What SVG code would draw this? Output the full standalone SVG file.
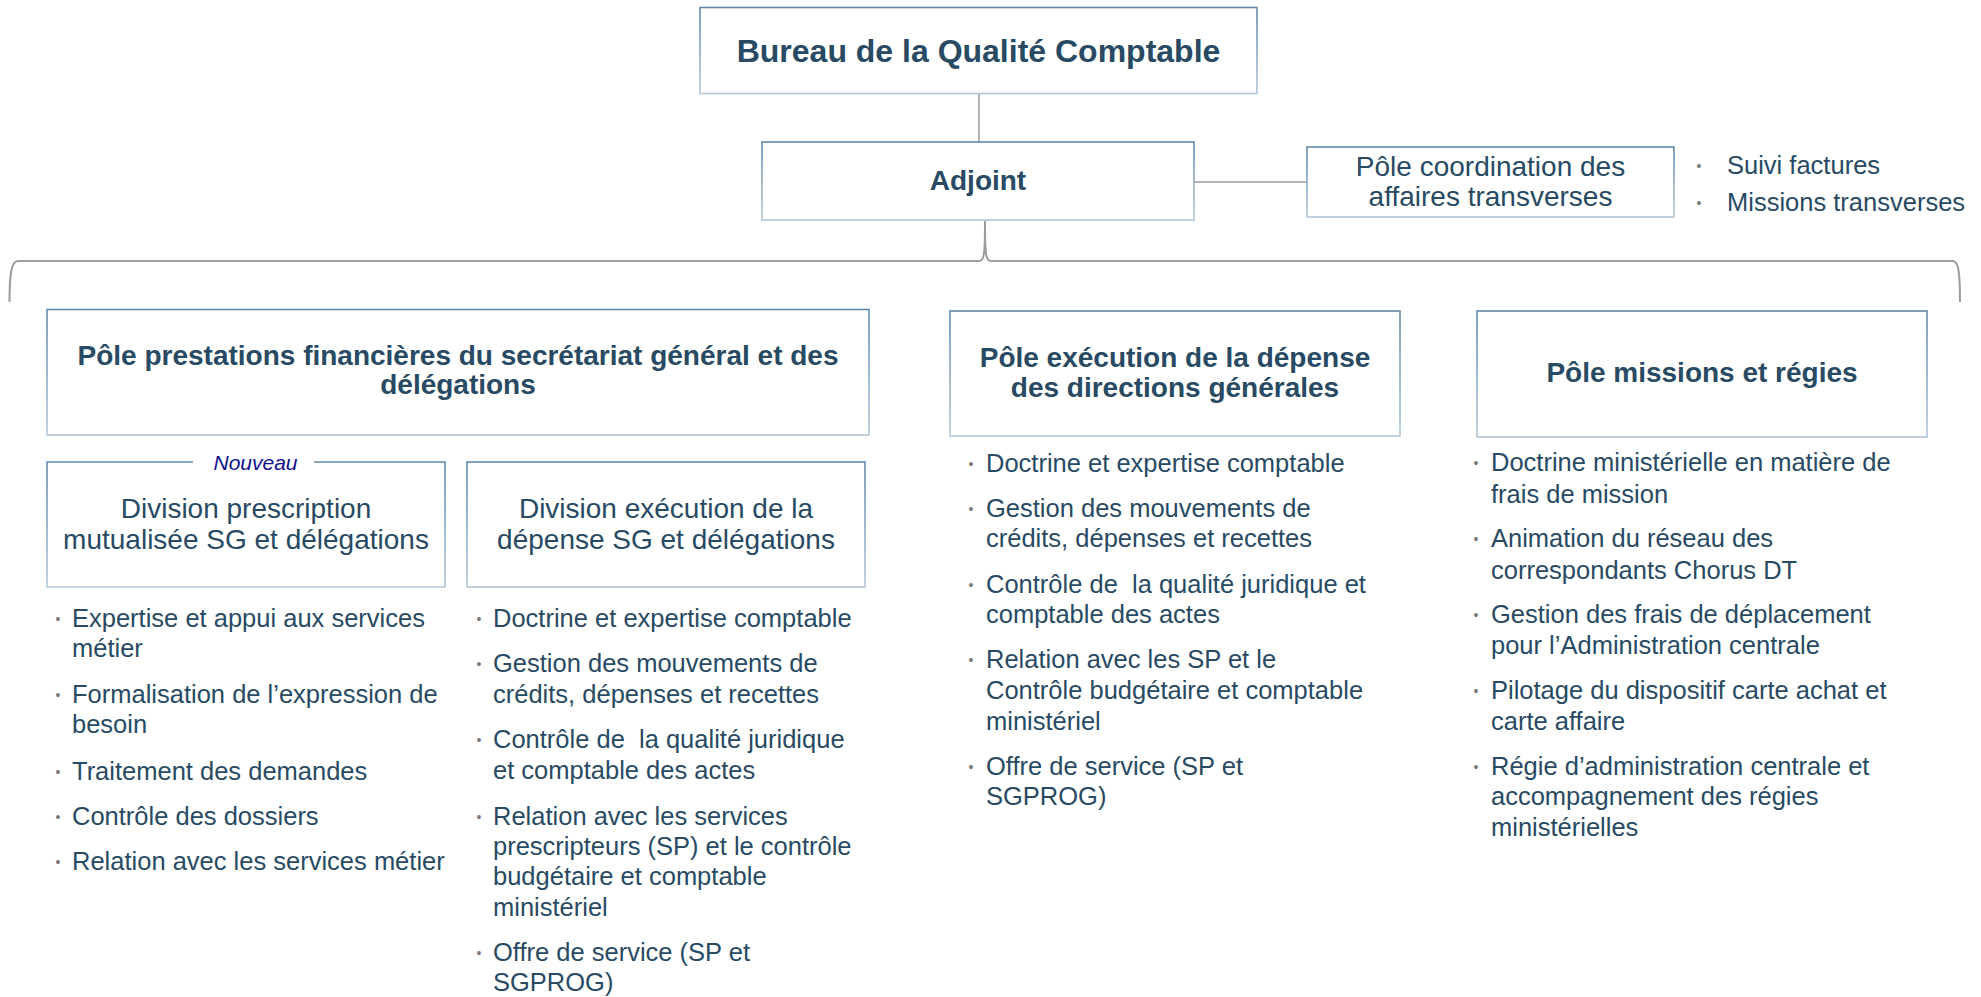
<svg xmlns="http://www.w3.org/2000/svg" width="1981" height="997" viewBox="0 0 1981 997">
  <defs>
    <linearGradient id="bd" x1="0" y1="0" x2="0" y2="1">
      <stop offset="0" stop-color="#6189aa"/>
      <stop offset="1" stop-color="#b3c7d8"/>
    </linearGradient>
    <style>
      .box { fill: #ffffff; stroke: url(#bd); stroke-width: 1.6; }
      .t { font-family: "Liberation Sans", Arial, sans-serif; fill: #284a63; }
      .tb { font-family: "Liberation Sans", Arial, sans-serif; fill: #284a63; font-weight: bold; font-size: 28px; text-anchor: middle; }
      .tr { font-family: "Liberation Sans", Arial, sans-serif; fill: #284a63; font-size: 28px; text-anchor: middle; }
      .li { font-family: "Liberation Sans", Arial, sans-serif; fill: #284a63; font-size: 25.5px; }
      .bu { font-family: "Liberation Sans", Arial, sans-serif; fill: #7a7a7a; font-size: 14px; text-anchor: middle; }
      .nv { font-family: "Liberation Sans", Arial, sans-serif; fill: #10108c; font-size: 21px; font-style: italic; text-anchor: middle; }
      .cn { fill: none; stroke: #b5b5b5; stroke-width: 2; }
      .br { fill: none; stroke: #9c9c9c; stroke-width: 2; }
    </style>
  </defs>
  <rect width="1981" height="997" fill="#ffffff"/>

  <g id="connectors">
    <line class="cn" x1="979" y1="94" x2="979" y2="142"/>
    <line class="cn" x1="1194" y1="182" x2="1307" y2="182"/>
    <path class="br" d="M9.5,302 C9.5,276 11,261 18,261 L979,261 C984,261 985,256 985,221 C985,256 986,261 991,261 L1953,261 C1959,261 1960,276 1960,302"/>
  </g>

  <g id="bureau">
    <rect class="box" x="700" y="7.5" width="557" height="86"/>
    <text class="tb" x="978.5" y="62" style="font-size:32px">Bureau de la Qualité Comptable</text>
  </g>

  <g id="adjoint">
    <rect class="box" x="762" y="142" width="432" height="78"/>
    <text class="tb" x="978" y="190">Adjoint</text>
  </g>

  <g id="pole-coordination">
    <rect class="box" x="1307" y="147" width="367" height="70"/>
    <text class="tr" x="1490.5" y="176">Pôle coordination des</text>
    <text class="tr" x="1490.5" y="206">affaires transverses</text>
  </g>

  <g id="coordination-items">
    <text class="bu" x="1699" y="171">•</text>
    <text class="li" x="1727" y="174">Suivi factures</text>
    <text class="bu" x="1699" y="208">•</text>
    <text class="li" x="1727" y="211">Missions transverses</text>
  </g>

  <g id="pole-prestations">
    <rect class="box" x="47" y="309.5" width="822" height="125.5"/>
    <text class="tb" x="458" y="365">Pôle prestations financières du secrétariat général et des</text>
    <text class="tb" x="458" y="394">délégations</text>
  </g>

  <g id="division-prescription">
    <path class="box" d="M193,462 H47 V587 H445 V462 H314"/>
    <text class="nv" x="255.5" y="470">Nouveau</text>
    <text class="tr" x="246" y="518">Division prescription</text>
    <text class="tr" x="246" y="549">mutualisée SG et délégations</text>
  </g>

  <g id="division-execution">
    <rect class="box" x="467" y="462" width="398" height="125"/>
    <text class="tr" x="666" y="518">Division exécution de la</text>
    <text class="tr" x="666" y="549">dépense SG et délégations</text>
  </g>

  <g id="prescription-items">
    <text class="bu" x="58" y="624">•</text>
    <text class="li" x="72" y="627">Expertise et appui aux services</text>
    <text class="li" x="72" y="657">métier</text>
    <text class="bu" x="58" y="700">•</text>
    <text class="li" x="72" y="703">Formalisation de l’expression de</text>
    <text class="li" x="72" y="733">besoin</text>
    <text class="bu" x="58" y="777">•</text>
    <text class="li" x="72" y="780">Traitement des demandes</text>
    <text class="bu" x="58" y="822">•</text>
    <text class="li" x="72" y="825">Contrôle des dossiers</text>
    <text class="bu" x="58" y="867">•</text>
    <text class="li" x="72" y="870">Relation avec les services métier</text>
  </g>

  <g id="execution-sg-items">
    <text class="bu" x="479" y="624">•</text>
    <text class="li" x="493" y="627">Doctrine et expertise comptable</text>
    <text class="bu" x="479" y="669">•</text>
    <text class="li" x="493" y="672">Gestion des mouvements de</text>
    <text class="li" x="493" y="703">crédits, dépenses et recettes</text>
    <text class="bu" x="479" y="745">•</text>
    <text class="li" x="493" y="748" xml:space="preserve">Contrôle de  la qualité juridique</text>
    <text class="li" x="493" y="779">et comptable des actes</text>
    <text class="bu" x="479" y="822">•</text>
    <text class="li" x="493" y="825">Relation avec les services</text>
    <text class="li" x="493" y="855">prescripteurs (SP) et le contrôle</text>
    <text class="li" x="493" y="885">budgétaire et comptable</text>
    <text class="li" x="493" y="916">ministériel</text>
    <text class="bu" x="479" y="958">•</text>
    <text class="li" x="493" y="961">Offre de service (SP et</text>
    <text class="li" x="493" y="991">SGPROG)</text>
  </g>

  <g id="pole-execution">
    <rect class="box" x="950" y="311" width="450" height="125"/>
    <text class="tb" x="1175" y="367">Pôle exécution de la dépense</text>
    <text class="tb" x="1175" y="397">des directions générales</text>
  </g>

  <g id="execution-dg-items">
    <text class="bu" x="971" y="469">•</text>
    <text class="li" x="986" y="472">Doctrine et expertise comptable</text>
    <text class="bu" x="971" y="514">•</text>
    <text class="li" x="986" y="517">Gestion des mouvements de</text>
    <text class="li" x="986" y="547">crédits, dépenses et recettes</text>
    <text class="bu" x="971" y="590">•</text>
    <text class="li" x="986" y="593" xml:space="preserve">Contrôle de  la qualité juridique et</text>
    <text class="li" x="986" y="623">comptable des actes</text>
    <text class="bu" x="971" y="665">•</text>
    <text class="li" x="986" y="668">Relation avec les SP et le</text>
    <text class="li" x="986" y="699">Contrôle budgétaire et comptable</text>
    <text class="li" x="986" y="730">ministériel</text>
    <text class="bu" x="971" y="772">•</text>
    <text class="li" x="986" y="775">Offre de service (SP et</text>
    <text class="li" x="986" y="805">SGPROG)</text>
  </g>

  <g id="pole-missions">
    <rect class="box" x="1477" y="311" width="450" height="126"/>
    <text class="tb" x="1702" y="382">Pôle missions et régies</text>
  </g>

  <g id="missions-items">
    <text class="bu" x="1476" y="468">•</text>
    <text class="li" x="1491" y="471">Doctrine ministérielle en matière de</text>
    <text class="li" x="1491" y="503">frais de mission</text>
    <text class="bu" x="1476" y="544">•</text>
    <text class="li" x="1491" y="547">Animation du réseau des</text>
    <text class="li" x="1491" y="579">correspondants Chorus DT</text>
    <text class="bu" x="1476" y="620">•</text>
    <text class="li" x="1491" y="623">Gestion des frais de déplacement</text>
    <text class="li" x="1491" y="654">pour l’Administration centrale</text>
    <text class="bu" x="1476" y="696">•</text>
    <text class="li" x="1491" y="699">Pilotage du dispositif carte achat et</text>
    <text class="li" x="1491" y="730">carte affaire</text>
    <text class="bu" x="1476" y="772">•</text>
    <text class="li" x="1491" y="775">Régie d’administration centrale et</text>
    <text class="li" x="1491" y="805">accompagnement des régies</text>
    <text class="li" x="1491" y="836">ministérielles</text>
  </g>
</svg>
